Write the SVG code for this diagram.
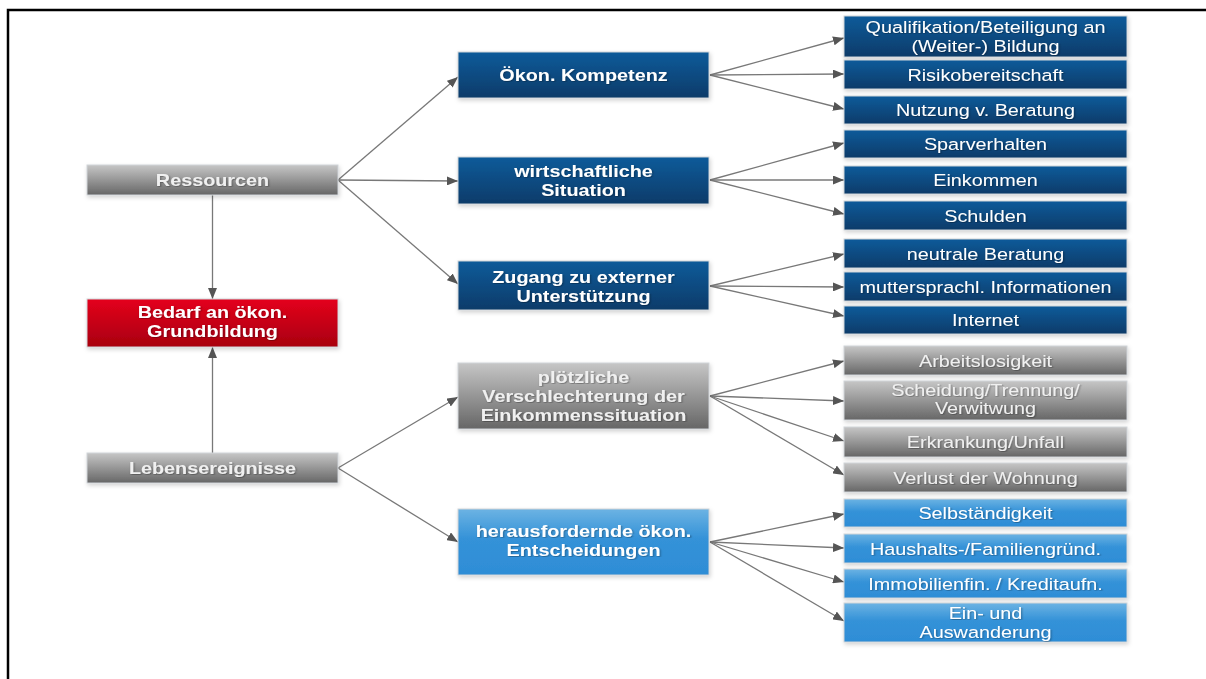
<svg xmlns="http://www.w3.org/2000/svg" width="1206" height="679" viewBox="0 0 1206 679">
  <defs>
    <linearGradient id="gBlue" x1="0" y1="0" x2="0" y2="1">
      <stop offset="0" stop-color="#0b5b9a"/>
      <stop offset="1" stop-color="#0b3b69"/>
    </linearGradient>
    <linearGradient id="gGray" x1="0" y1="0" x2="0" y2="1">
      <stop offset="0" stop-color="#c6c6c6"/>
      <stop offset="1" stop-color="#666666"/>
    </linearGradient>
    <linearGradient id="gRed" x1="0" y1="0" x2="0" y2="1">
      <stop offset="0" stop-color="#e4001c"/>
      <stop offset="1" stop-color="#a8000f"/>
    </linearGradient>
    <linearGradient id="gLight" x1="0" y1="0" x2="0" y2="1">
      <stop offset="0" stop-color="#6cb3e3"/>
      <stop offset="0.45" stop-color="#3492d8"/>
      <stop offset="1" stop-color="#2e8dd6"/>
    </linearGradient>
    <filter id="boxShadow" x="-10%" y="-30%" width="120%" height="160%">
      <feDropShadow dx="1" dy="2" stdDeviation="2" flood-color="#000" flood-opacity="0.18"/>
    </filter>
    <filter id="txtShadow" x="-10%" y="-30%" width="120%" height="160%">
      <feDropShadow dx="0.8" dy="0.8" stdDeviation="0.7" flood-color="#000" flood-opacity="0.35"/>
    </filter>
    <marker id="arrow" markerUnits="userSpaceOnUse" markerWidth="11" markerHeight="9" refX="11" refY="4.5" orient="auto">
      <path d="M0,0 L11,4.5 L0,9 z" fill="#555"/>
    </marker>
    <style>
      .box { stroke: #cfd3d8; stroke-width: 1; filter: url(#boxShadow); }
      .blue { fill: url(#gBlue); }
      .gray { fill: url(#gGray); }
      .red { fill: url(#gRed); }
      .light { fill: url(#gLight); }
      .lbl { font-family: "Liberation Sans", Arial, sans-serif; font-size: 16.5px; fill: #ffffff; text-anchor: middle; filter: url(#txtShadow); }
      .b { font-weight: bold; }
      .gtxt { fill: #f0f0f0; }
      .conn line { stroke: #787878; stroke-width: 1.3; marker-end: url(#arrow); }
    </style>
  </defs>

  <rect width="1206" height="679" fill="#ffffff"/>
  <!-- page frame -->
  <path d="M8,679 L8,10 L1206,10" fill="none" stroke="#000" stroke-width="2.5"/>

  <!-- connectors -->
  <g id="connectors" class="conn">
    <line x1="212.5" y1="195" x2="212.5" y2="299"/>
    <line x1="212.5" y1="453" x2="212.5" y2="347"/>
    <line x1="338" y1="180" x2="458" y2="77"/>
    <line x1="338" y1="180" x2="458" y2="181"/>
    <line x1="338" y1="180" x2="458" y2="284"/>
    <line x1="338" y1="468" x2="458" y2="397"/>
    <line x1="338" y1="468" x2="458" y2="542"/>

    <line x1="710" y1="75" x2="844" y2="38"/>
    <line x1="710" y1="75" x2="844" y2="74"/>
    <line x1="710" y1="75" x2="844" y2="109"/>

    <line x1="710" y1="180" x2="844" y2="143"/>
    <line x1="710" y1="180" x2="844" y2="180"/>
    <line x1="710" y1="180" x2="844" y2="214"/>

    <line x1="710" y1="286" x2="844" y2="254"/>
    <line x1="710" y1="286" x2="844" y2="287"/>
    <line x1="710" y1="286" x2="844" y2="316"/>

    <line x1="710" y1="396" x2="844" y2="361"/>
    <line x1="710" y1="396" x2="844" y2="401"/>
    <line x1="710" y1="396" x2="844" y2="441"/>
    <line x1="710" y1="396" x2="844" y2="475"/>

    <line x1="710" y1="542" x2="844" y2="514"/>
    <line x1="710" y1="542" x2="844" y2="548"/>
    <line x1="710" y1="542" x2="844" y2="582"/>
    <line x1="710" y1="542" x2="844" y2="621"/>
  </g>

  <!-- left column -->
  <g id="ressourcen">
    <rect class="box gray" x="87" y="165" width="251" height="30"/>
    <text class="lbl b gtxt" transform="translate(212.5 186) scale(1.2 1)">Ressourcen</text>
  </g>
  <g id="bedarf">
    <rect class="box red" x="87" y="299" width="251" height="48"/>
    <text class="lbl b" transform="translate(212.5 318) scale(1.2 1)"><tspan x="0">Bedarf an ökon.</tspan><tspan x="0" dy="19.5">Grundbildung</tspan></text>
  </g>
  <g id="lebensereignisse">
    <rect class="box gray" x="87" y="453" width="251" height="30"/>
    <text class="lbl b gtxt" transform="translate(212.5 474) scale(1.2 1)">Lebensereignisse</text>
  </g>

  <!-- middle column -->
  <g id="oekon-kompetenz">
    <rect class="box blue" x="458" y="52" width="251" height="46"/>
    <text class="lbl b" transform="translate(583.5 81) scale(1.2 1)">Ökon. Kompetenz</text>
  </g>
  <g id="wirtschaftliche-situation">
    <rect class="box blue" x="458" y="157" width="251" height="47"/>
    <text class="lbl b" transform="translate(583.5 176.5) scale(1.2 1)"><tspan x="0">wirtschaftliche</tspan><tspan x="0" dy="19.5">Situation</tspan></text>
  </g>
  <g id="zugang">
    <rect class="box blue" x="458" y="261" width="251" height="49"/>
    <text class="lbl b" transform="translate(583.5 282.5) scale(1.2 1)"><tspan x="0">Zugang zu externer</tspan><tspan x="0" dy="19.5">Unterstützung</tspan></text>
  </g>
  <g id="verschlechterung">
    <rect class="box gray" x="458" y="363" width="251" height="66"/>
    <text class="lbl b gtxt" transform="translate(583.5 383) scale(1.2 1)"><tspan x="0">plötzliche</tspan><tspan x="0" dy="19">Verschlechterung der</tspan><tspan x="0" dy="19">Einkommenssituation</tspan></text>
  </g>
  <g id="entscheidungen">
    <rect class="box light" x="458" y="509" width="251" height="66"/>
    <text class="lbl b" transform="translate(583.5 537) scale(1.2 1)"><tspan x="0">herausfordernde ökon.</tspan><tspan x="0" dy="19">Entscheidungen</tspan></text>
  </g>

  <!-- right column -->
  <g id="qualifikation">
    <rect class="box blue" x="844" y="16" width="283" height="41"/>
    <text class="lbl" transform="translate(985.5 32.5) scale(1.2 1)"><tspan x="0">Qualifikation/Beteiligung an</tspan><tspan x="0" dy="19.5">(Weiter-) Bildung</tspan></text>
  </g>
  <g id="risiko">
    <rect class="box blue" x="844" y="60" width="283" height="29"/>
    <text class="lbl" transform="translate(985.5 80.5) scale(1.2 1)">Risikobereitschaft</text>
  </g>
  <g id="nutzung">
    <rect class="box blue" x="844" y="96" width="283" height="28"/>
    <text class="lbl" transform="translate(985.5 116) scale(1.2 1)">Nutzung v. Beratung</text>
  </g>
  <g id="sparverhalten">
    <rect class="box blue" x="844" y="130" width="283" height="28"/>
    <text class="lbl" transform="translate(985.5 150) scale(1.2 1)">Sparverhalten</text>
  </g>
  <g id="einkommen">
    <rect class="box blue" x="844" y="166" width="283" height="28"/>
    <text class="lbl" transform="translate(985.5 186) scale(1.2 1)">Einkommen</text>
  </g>
  <g id="schulden">
    <rect class="box blue" x="844" y="201" width="283" height="29"/>
    <text class="lbl" transform="translate(985.5 221.5) scale(1.2 1)">Schulden</text>
  </g>
  <g id="neutrale-beratung">
    <rect class="box blue" x="844" y="239" width="283" height="29"/>
    <text class="lbl" transform="translate(985.5 259.5) scale(1.2 1)">neutrale Beratung</text>
  </g>
  <g id="muttersprachl">
    <rect class="box blue" x="844" y="272" width="283" height="29"/>
    <text class="lbl" transform="translate(985.5 292.5) scale(1.2 1)">muttersprachl. Informationen</text>
  </g>
  <g id="internet">
    <rect class="box blue" x="844" y="306" width="283" height="28"/>
    <text class="lbl" transform="translate(985.5 326) scale(1.2 1)">Internet</text>
  </g>
  <g id="arbeitslosigkeit">
    <rect class="box gray" x="844" y="346" width="283" height="29"/>
    <text class="lbl gtxt" transform="translate(985.5 366.5) scale(1.2 1)">Arbeitslosigkeit</text>
  </g>
  <g id="scheidung">
    <rect class="box gray" x="844" y="381" width="283" height="39"/>
    <text class="lbl gtxt" transform="translate(985.5 395.5) scale(1.2 1)"><tspan x="0">Scheidung/Trennung/</tspan><tspan x="0" dy="19">Verwitwung</tspan></text>
  </g>
  <g id="erkrankung">
    <rect class="box gray" x="844" y="427" width="283" height="30"/>
    <text class="lbl gtxt" transform="translate(985.5 448) scale(1.2 1)">Erkrankung/Unfall</text>
  </g>
  <g id="wohnung">
    <rect class="box gray" x="844" y="463" width="283" height="29"/>
    <text class="lbl gtxt" transform="translate(985.5 483.5) scale(1.2 1)">Verlust der Wohnung</text>
  </g>
  <g id="selbstaendigkeit">
    <rect class="box light" x="844" y="499" width="283" height="28"/>
    <text class="lbl" transform="translate(985.5 519) scale(1.2 1)">Selbständigkeit</text>
  </g>
  <g id="haushalt">
    <rect class="box light" x="844" y="534" width="283" height="29"/>
    <text class="lbl" transform="translate(985.5 554.5) scale(1.2 1)">Haushalts-/Familiengründ.</text>
  </g>
  <g id="immobilien">
    <rect class="box light" x="844" y="569" width="283" height="29"/>
    <text class="lbl" transform="translate(985.5 589.5) scale(1.2 1)">Immobilienfin. / Kreditaufn.</text>
  </g>
  <g id="wanderung">
    <rect class="box light" x="844" y="603" width="283" height="39"/>
    <text class="lbl" transform="translate(985.5 619) scale(1.2 1)"><tspan x="0">Ein- und</tspan><tspan x="0" dy="19">Auswanderung</tspan></text>
  </g>
</svg>
